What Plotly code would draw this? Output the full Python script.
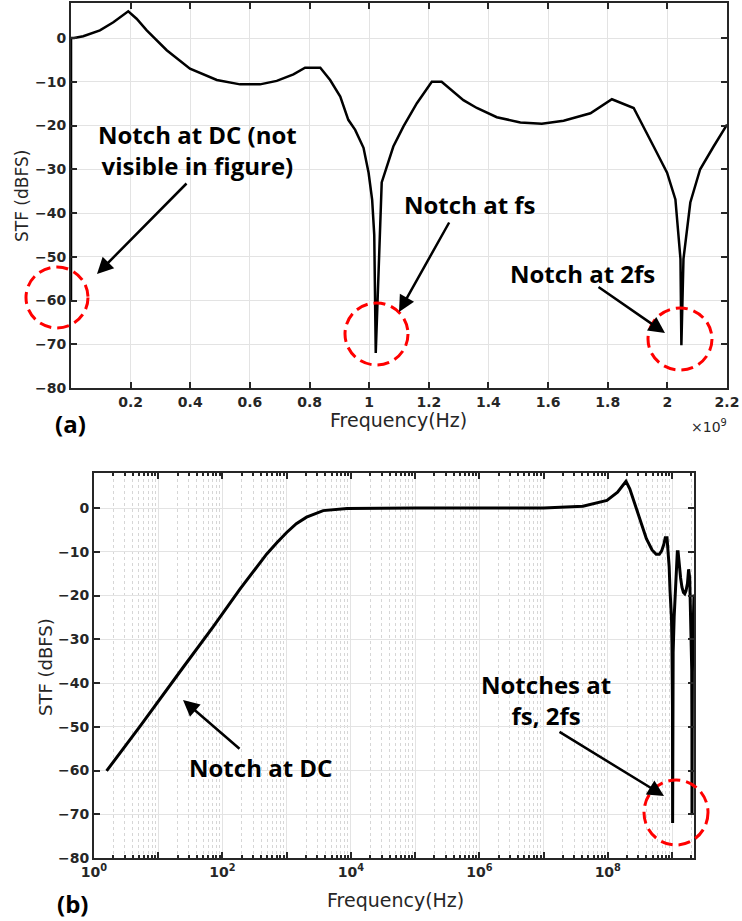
import plotly.graph_objects as go

# ---------------- data ----------------
# low-frequency part (Hz, dBFS) - the DC notch region
low_freq_hz = [1.57, 5.2, 24.5, 72, 186, 490, 708, 1000, 1413, 2040, 3700, 5600, 8700,
               1e5, 1e6, 1e7]
low_stf_db = [-60.1, -49.9, -36.4, -27.1, -18.6, -10.5, -7.9, -5.6, -3.6, -2.1, -0.6, -0.3,
              -0.1, 0.0, 0.0, 0.0]

# high-frequency part (Hz, dBFS)
high_freq_hz = [4.1e7, 9.7e7, 1.42e8, 1.92e8, 2.20e8, 2.54e8, 3.21e8, 3.99e8, 4.89e8, 5.67e8,
                6.34e8, 6.90e8, 7.46e8, 7.85e8, 8.36e8, 8.69e8, 9.03e8, 9.30e8, 9.53e8, 9.81e8,
                9.98e8, 1.010e9, 1.017e9, 1.022e9, 1.042e9, 1.081e9, 1.115e9, 1.160e9, 1.210e9,
                1.243e9, 1.316e9, 1.361e9, 1.428e9, 1.507e9, 1.579e9, 1.652e9, 1.742e9, 1.814e9,
                1.887e9, 1.954e9, 1.999e9, 2.027e9, 2.044e9, 2.047e9, 2.054e9, 2.077e9, 2.110e9,
                2.155e9, 2.200e9]
high_stf_db = [0.4, 1.75, 3.6, 6.1, 4.4, 1.75, -2.8, -7.0, -9.6, -10.6,
               -10.6, -9.8, -8.3, -6.8, -6.8, -9.6, -13.4, -18.7, -21.0, -25.1,
               -30.8, -37.0, -45.0, -72.0, -33.0, -24.8, -20.2, -14.9, -10.0,
               -10.0, -14.2, -16.0, -18.1, -19.3, -19.6, -18.9, -17.2, -14.0,
               -16.0, -24.8, -30.8, -36.9, -50.5, -70.2, -50.5, -37.6, -30.0,
               -24.8, -19.8]

freq_hz = low_freq_hz + high_freq_hz
stf_db = low_stf_db + high_stf_db

# tick labels
lin_tickvals = [0.2e9, 0.4e9, 0.6e9, 0.8e9, 1.0e9, 1.2e9, 1.4e9, 1.6e9, 1.8e9, 2.0e9, 2.2e9]
lin_ticktext = ["0.2", "0.4", "0.6", "0.8", "1", "1.2", "1.4", "1.6", "1.8", "2", "2.2"]
log_tickvals = [1, 10, 1e2, 1e3, 1e4, 1e5, 1e6, 1e7, 1e8, 1e9]
log_ticktext = ["10<sup>0</sup>", "", "10<sup>2</sup>", "", "10<sup>4</sup>", "",
                "10<sup>6</sup>", "", "10<sup>8</sup>", ""]
y_tickvals = [-80, -70, -60, -50, -40, -30, -20, -10, 0]

# ---------------- layout helpers ----------------
W, H = 742, 921


def px(x):
    return x / W


def py(y):
    return 1 - y / H


AX = "#262626"
GRID = "#e3e3e3"
TICKFONT = dict(family="DejaVu Sans", size=14, color=AX, weight="bold")
NOTEFONT = dict(family="Open Sans", size=24, color="black", weight="bold")

fig = go.Figure()
fig.add_trace(go.Scatter(x=freq_hz, y=stf_db, mode="lines",
                         line=dict(color="black", width=2.5), xaxis="x", yaxis="y",
                         showlegend=False))
fig.add_trace(go.Scatter(x=freq_hz, y=stf_db, mode="lines",
                         line=dict(color="black", width=3), xaxis="x2", yaxis="y2",
                         showlegend=False))

common_axis = dict(showline=True, linecolor=AX, linewidth=2, mirror="ticks",
                   ticks="inside", ticklen=6, tickwidth=1.5, tickcolor=AX,
                   showgrid=True, gridcolor=GRID, gridwidth=1, zeroline=False,
                   tickfont=TICKFONT, automargin=False)

minor_vals = [m * 10 ** d for d in range(0, 10) for m in range(2, 10) if m * 10 ** d <= 2.2e9]

fig.update_layout(
    width=W, height=H,
    margin=dict(l=0, r=0, t=0, b=0, autoexpand=False),
    paper_bgcolor="white", plot_bgcolor="white",
    showlegend=False,
    xaxis=dict(domain=[px(71), px(727)], range=[0, 2.2e9], anchor="y",
               tickmode="array", tickvals=lin_tickvals, ticktext=lin_ticktext,
               **common_axis),
    yaxis=dict(domain=[py(388), py(3)], range=[-80, 8], anchor="x",
               tickmode="array", tickvals=y_tickvals, **common_axis),
    xaxis2=dict(domain=[px(94), px(694)], type="log", range=[0, 9.3424], anchor="y2",
                tickmode="array", tickvals=log_tickvals, ticktext=log_ticktext,
                minor=dict(tickmode="array", tickvals=minor_vals, ticks="inside",
                           ticklen=3, tickcolor=AX, showgrid=True,
                           gridcolor="#d6d6d6", griddash="dot", gridwidth=1),
                **common_axis),
    yaxis2=dict(domain=[py(858), py(473)], range=[-80, 8], anchor="x2",
                tickmode="array", tickvals=y_tickvals, **common_axis),
)

ann = []


def note(text, x, y, font, angle=0, xanchor="center"):
    ann.append(dict(text=text, x=px(x), y=py(y), xref="paper", yref="paper",
                    xanchor=xanchor, yanchor="middle", textangle=angle,
                    showarrow=False, font=font))


TITLEFONT = dict(family="DejaVu Sans", size=19, color=AX)
# axis titles
note("Frequency(Hz)", 398, 420, TITLEFONT)
note("Frequency(Hz)", 395, 900, TITLEFONT)
note("STF (dBFS)", 22, 196, dict(family="DejaVu Sans", size=17, color=AX), angle=-90)
note("STF (dBFS)", 45, 667, dict(family="DejaVu Sans", size=18, color=AX), angle=-90)
note("\u00d710<sup>9</sup>", 729, 426, dict(family="DejaVu Sans", size=14, color=AX),
     xanchor="right")
# panel labels
note("(a)", 70, 423, NOTEFONT)
note("(b)", 72, 903, NOTEFONT)
# notes
note("Notch at DC (not<br>visible in figure)", 197, 150, NOTEFONT)
note("Notch at fs", 470, 204, NOTEFONT)
note("Notch at 2fs", 582, 273, NOTEFONT)
note("Notch at DC", 260, 767, NOTEFONT)
note("Notches at<br>fs, 2fs", 546, 700, NOTEFONT)

# arrows: (head_x, head_y, tail_dx, tail_dy) in pixels
arrows = [(97, 274, 91, -92), (399, 312, 51, -91), (665, 333, -68, -47),
          (183, 700, 58, 50), (664, 796, -106, -65)]
for hx, hy, dx, dy in arrows:
    ann.append(dict(text="", x=px(hx), y=py(hy), xref="paper", yref="paper",
                    ax=dx, ay=dy, showarrow=True, arrowhead=2, arrowsize=1.3,
                    arrowwidth=2.5, arrowcolor="black"))
fig.update_layout(annotations=ann)

# red dashed circles
circles = [(26, 267, 88, 328), (345, 303, 408, 365), (648, 308, 712, 370), (644, 780, 708, 845)]
for x0, y0, x1, y1 in circles:
    fig.add_shape(type="circle", xref="paper", yref="paper",
                  x0=px(x0), x1=px(x1), y0=py(y1), y1=py(y0),
                  line=dict(color="#ff0000", width=3, dash="12px,6px"))

fig.write_html("out.html", config={"displayModeBar": False},
               post_script="document.body.style.margin='0px';")
